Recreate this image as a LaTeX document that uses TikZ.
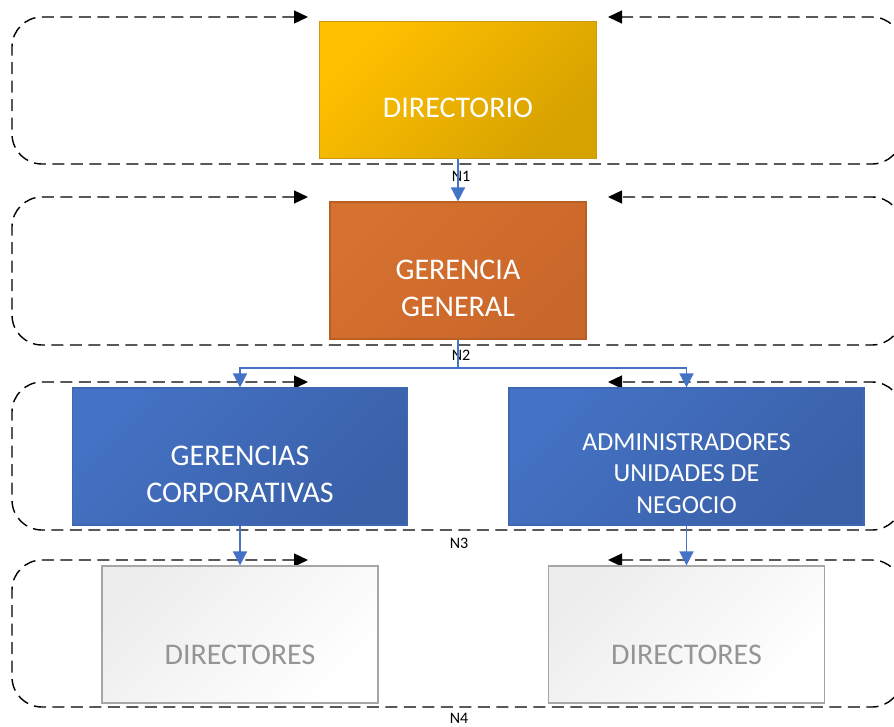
\documentclass[tikz,border=0pt]{standalone}
\usepackage{fontspec}
\usepackage{tikz}
\usetikzlibrary{arrows.meta}
\setmainfont{Carlito}
\definecolor{gold}{HTML}{FFC000}
\definecolor{golddark}{HTML}{D6A200}
\definecolor{goldline}{HTML}{C99A10}
\definecolor{rust}{HTML}{D6722F}
\definecolor{rustdark}{HTML}{C9662A}
\definecolor{rustline}{HTML}{BA5E24}
\definecolor{corpblue}{HTML}{4472C4}
\definecolor{corpdark}{HTML}{3A60A8}
\definecolor{corpline}{HTML}{3F68B4}
\definecolor{paleline}{HTML}{A6A6A6}
\definecolor{paletext}{HTML}{959595}

\tikzset{
  levelloop/.style={black, line width=1.4pt, dash pattern=on 12pt off 6.5pt, rounded corners=30pt,
    {Triangle[length=14pt,width=13pt]}-{Triangle[length=14pt,width=13pt]}},
  orgbox/.style={rectangle, line width=1.2pt, minimum height=137pt, inner sep=0pt},
  dirbox/.style={orgbox, top color=gold, bottom color=golddark, shading angle=45, draw=goldline},
  genbox/.style={orgbox, top color=rust, bottom color=rustdark, shading angle=45, draw=rustline},
  corpbox/.style={orgbox, top color=corpblue, bottom color=corpdark, shading angle=45, draw=corpline},
  palebox/.style={orgbox, top color=black!7, bottom color=white, shading angle=45, draw=paleline},
  boxtext/.style={white, align=center, font=\fontsize{30}{37}\selectfont},
  smalltext/.style={white, align=center, font=\fontsize{26}{31.5}\selectfont},
  paletxt/.style={paletext, align=center, font=\fontsize{30}{37}\selectfont},
  nlabel/.style={black, font=\fontsize{16}{19}\selectfont},
  conn/.style={corpblue, line width=1.6pt, -{Triangle[length=14pt,width=14pt]}}
}

\begin{document}
\begin{tikzpicture}[x=1pt, y=-1pt]
  \useasboundingbox (0,0) rectangle (894,726);
  \clip (0,0) rectangle (894,726);

  % level loops
  \draw[levelloop] (308,17) -| (12,164) -| (902,17) -- (608,17);
  \draw[levelloop] (308,197) -| (12,345) -| (902,197) -- (608,197);
  \draw[levelloop] (308,382) -| (12,530) -| (902,382) -- (608,382);
  \draw[levelloop] (308,560) -| (12,707) -| (902,560) -- (608,560);

  % boxes
  \node (dir) at (458,90) [dirbox, minimum width=277pt] {};
  \node (gg) at (458,270.5) [genbox, minimum width=256pt] {};
  \node (gc) at (240,456.5) [corpbox, minimum width=335pt] {};
  \node (aun) at (686.5,456.5) [corpbox, minimum width=355pt] {};
  \node (dirs1) at (240,634.5) [palebox, minimum width=276pt] {};
  \node (dirs2) at (686.5,634.5) [palebox, minimum width=276pt] {};

  % texts
  \node (dir-t) at ([yshift=-18pt]dir.center) [boxtext] {DIRECTORIO};
  \node (gg-t) at ([yshift=-18pt]gg.center) [boxtext] {GERENCIA\\GENERAL};
  \node (gc-t) at ([yshift=-18pt]gc.center) [boxtext] {GERENCIAS\\CORPORATIVAS};
  \node (aun-t) at ([yshift=-17pt]aun.center) [smalltext] {ADMINISTRADORES\\UNIDADES DE\\NEGOCIO};
  \node (dirs1-t) at ([yshift=-20pt]dirs1.center) [paletxt] {DIRECTORES};
  \node (dirs2-t) at ([yshift=-20pt]dirs2.center) [paletxt] {DIRECTORES};

  % level names
  \node (n1) at (461,176) [nlabel] {N1};
  \node (n2) at (461,355) [nlabel] {N2};
  \node (n3) at (459,543) [nlabel] {N3};
  \node (n4) at (459,718) [nlabel] {N4};

  % connectors
  \coordinate (split) at (458,368);
  \draw[conn] (dir.south) -- (gg.north);
  \draw[conn] (gg.south) -- (split) -| (gc.north);
  \draw[conn] (split) -| (aun.north);
  \draw[conn] (gc.south) -- (dirs1.north);
  \draw[conn] (aun.south) -- (dirs2.north);
\end{tikzpicture}
\end{document}
